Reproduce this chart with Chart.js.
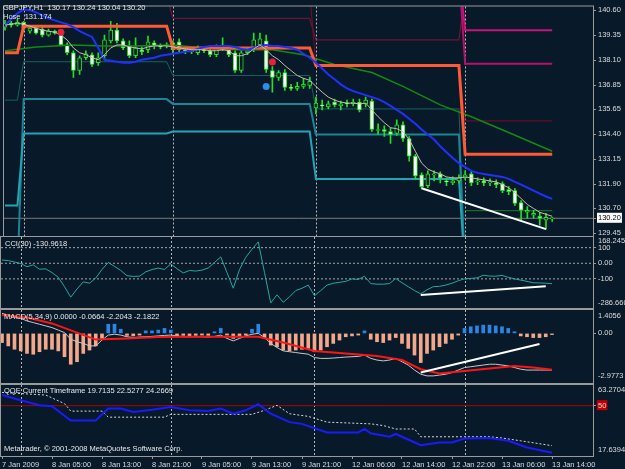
<!DOCTYPE html>
<html><head><meta charset="utf-8">
<script src="https://cdn.jsdelivr.net/npm/chart.js"></script>
<style>
html,body{margin:0;padding:0;background:#081a2a;width:625px;height:469px;overflow:hidden}
canvas{position:absolute;left:0;top:0}
</style></head><body>
<canvas id="cMain" width="625" height="469"></canvas>
<canvas id="cCci" width="625" height="469"></canvas>
<canvas id="cMacd" width="625" height="469"></canvas>
<canvas id="cQqe" width="625" height="469"></canvas>
<script>
// ---------- DATA ----------
const timeLabels = ['7 Jan 2009','8 Jan 05:00','8 Jan 13:00','8 Jan 21:00','9 Jan 05:00','9 Jan 13:00','9 Jan 21:00','12 Jan 06:00','12 Jan 14:00','12 Jan 22:00','13 Jan 06:00','13 Jan 14:00'];
const timeTickIdx = [0,8,16,24,32,40,48,56,64,72,80,88];
const daySeparators = [3,27,50,74];

const open = [139.76,139.95,139.86,140.00,139.56,139.71,139.66,139.36,139.56,139.36,
138.87,138.48,137.59,138.23,138.38,137.98,138.33,139.07,139.61,139.07,
138.82,138.33,138.63,138.63,138.97,138.82,138.82,138.97,139.02,138.63,
138.53,138.48,138.63,138.58,138.38,138.67,138.72,138.48,137.59,138.48,
138.63,138.87,139.07,137.59,137.25,137.49,136.75,136.70,136.80,136.85,
135.72,135.87,135.77,136.01,135.82,135.96,135.92,136.01,135.92,136.06,
134.59,134.64,134.54,134.44,134.88,134.19,133.31,132.37,131.83,132.37,
132.42,132.07,131.97,132.07,132.22,132.42,132.02,132.07,131.97,131.97,
131.93,131.63,131.58,130.99,130.50,130.35,130.30,130.10,130.17];
const high = [140.10,140.05,140.15,140.05,139.81,139.81,139.76,139.66,139.61,139.41,
138.97,138.58,138.33,138.58,138.48,138.48,139.36,140.05,139.95,139.17,
139.07,139.22,138.77,139.31,139.07,138.92,138.97,139.07,139.17,138.72,
138.67,138.82,138.72,138.72,138.87,139.22,138.82,138.58,138.58,138.72,
139.46,139.46,139.36,137.79,137.59,137.64,136.90,137.00,137.20,137.25,
136.26,136.11,136.06,136.16,136.06,136.11,136.16,136.16,136.26,136.16,
134.93,134.83,134.73,135.13,135.03,134.29,133.40,132.47,132.57,132.57,
132.52,132.22,132.27,132.37,132.57,132.57,132.22,132.22,132.17,132.12,
132.02,131.78,131.68,131.09,130.79,130.60,130.50,130.45,130.24];
const low = [139.61,139.76,139.81,139.61,139.46,139.41,139.27,139.31,139.41,138.82,
138.38,137.25,137.40,138.13,137.79,137.84,138.18,138.97,138.97,138.63,
138.23,138.23,138.38,138.48,138.67,138.67,138.72,138.48,138.48,138.43,
138.43,138.38,138.48,138.28,138.28,138.58,138.28,137.49,137.49,138.38,
138.53,138.77,137.49,136.51,137.10,136.60,136.60,136.60,136.70,136.70,
135.42,135.62,135.67,135.77,135.62,135.77,135.82,135.52,135.77,134.54,
134.39,134.29,133.94,134.34,134.04,133.06,132.17,131.68,131.73,132.07,
131.97,131.83,131.88,131.97,132.12,131.83,131.88,131.83,131.83,131.73,
131.48,131.38,130.84,130.10,130.20,130.20,129.86,129.66,130.04];
const close = [139.95,139.86,140.00,139.71,139.71,139.46,139.36,139.56,139.46,138.87,
138.48,137.59,138.23,138.43,137.89,138.23,139.12,139.61,139.07,138.72,
138.33,138.72,138.53,139.02,138.82,138.77,138.87,138.63,138.63,138.53,
138.58,138.67,138.58,138.38,138.72,138.77,138.38,137.59,138.48,138.58,
139.12,139.17,137.64,137.25,137.49,136.75,136.70,136.80,136.90,137.05,
135.96,135.82,135.92,135.87,135.92,135.92,136.01,135.62,136.11,134.64,
134.64,134.54,134.39,134.88,134.19,133.31,132.32,131.78,132.42,132.42,
132.22,132.02,132.07,132.22,132.37,131.97,132.07,131.97,132.02,131.88,
131.58,131.53,130.94,130.60,130.60,130.45,130.20,130.25,130.20];

const fastMA = [139.86,139.91,139.95,139.91,139.81,139.71,139.61,139.56,139.51,139.36,
139.12,138.72,138.48,138.38,138.23,138.13,138.38,138.72,138.87,138.87,
138.77,138.72,138.67,138.77,138.82,138.82,138.82,138.77,138.72,138.67,
138.63,138.63,138.63,138.58,138.58,138.63,138.58,138.33,138.33,138.43,
138.67,138.87,138.63,138.33,138.13,137.84,137.59,137.34,137.20,137.10,
136.80,136.51,136.26,136.11,136.01,135.96,135.96,135.92,135.96,135.62,
135.28,134.98,134.73,134.68,134.54,134.14,133.55,132.96,132.66,132.52,
132.42,132.27,132.22,132.22,132.27,132.22,132.17,132.12,132.07,132.02,
131.88,131.73,131.48,131.19,130.89,130.69,130.50,130.40,130.30];
const blueMA = [139.86,140.15,140.45,140.64,140.60,140.50,140.35,140.20,140.10,140.00,
139.91,139.76,139.56,139.41,139.27,138.72,138.13,138.08,138.03,137.98,
137.98,138.03,138.13,138.18,138.23,138.33,138.38,138.43,138.48,138.53,
138.58,138.67,138.77,138.82,138.82,138.82,138.82,138.77,138.67,138.63,
138.72,138.82,138.87,138.82,138.82,138.77,138.72,138.63,138.43,138.23,
137.98,137.69,137.39,137.15,136.90,136.70,136.56,136.46,136.36,136.26,
136.16,136.01,135.82,135.62,135.42,135.18,134.93,134.64,134.39,134.14,
133.80,133.50,133.21,132.96,132.76,132.57,132.47,132.42,132.37,132.32,
132.27,132.17,132.02,131.88,131.73,131.58,131.43,131.29,131.17];
const greenIdx = [0,5,11,16,21,27,32,37,43,48,53,59,64,70,75,81,88];
const greenVal = [138.58,138.77,138.87,138.82,138.82,138.87,138.72,138.63,138.63,138.38,137.89,137.49,136.80,135.87,135.28,134.49,133.55];

// daily level lines (index breakpoints / values)
const orangeIdx = [0,2,3,26,27,49,50,73,74,88];
const orangeVal = [138.48,138.48,139.81,139.81,138.72,138.72,137.84,137.84,133.40,133.40];
const maroonIdx = [26,27,49,50,73,74];
const maroonVal = [141.30,140.20,140.20,139.12,139.12,141.50];
const darkRedIdx = [49,50,73,74,88];
const darkRedVal = [141.50,137.84,137.84,135.07,135.07];
const magentaIdx = [73,74,88];
const magentaHiVal = [142.50,139.61,139.61];
const magentaLoVal = [142.50,137.93,137.93];
const tealAIdx = [2,3,26,27,49,50,73,74];
const tealAVal = [127.50,136.16,136.16,135.92,135.92,134.39,134.39,127.50];
const tealBIdx = [0,2,3,26,27,49,50,73,74];
const tealBVal = [130.84,130.84,134.44,134.44,134.54,134.54,132.17,132.17,127.50];
const tealDimIdx = [0,2,3,26,27,49,50,73,74];
const tealDimVal = [136.11,136.11,138.03,138.03,137.34,137.34,135.67,135.67,127.50];
const greenLvlIdx = [74,88];
const greenLvlVal = [130.58,130.58];
const upDotIdx = [9,43];
const upDotVal = [139.51,138.02];
const downDotIdx = [42];
const downDotVal = [136.79];
const trendIdx = [67,87];
const trendVal = [131.70,129.66];
const bidPrice = 130.20;
const mainTicks = [140.60,139.35,138.10,136.85,135.65,134.40,133.15,131.90,130.70,129.45];

const cci = [21,17,8,-2,-22,-10,-38,-36,-60,-90,
-150,-217,-165,-119,-128,-95,-40,5,-20,-46,
-80,-84,-83,-55,-40,-31,-40,-4,-35,-62,
-46,-50,-44,-30,5,41,-60,-160,-40,38,
90,137,-60,-254,-202,-250,-215,-175,-160,-140,
-208,-175,-140,-128,-122,-116,-100,-104,-83,-130,
-134,-134,-130,-98,-125,-150,-175,-196,-170,-150,
-148,-140,-128,-112,-100,-97,-94,-77,-82,-83,
-78,-90,-100,-108,-116,-125,-126,-128,-131];
const cciLevels = [100,0,-100];
const cciTrendIdx = [67,87];
const cciTrendVal = [-203,-147];
const cciMax = 168.2453, cciMin = -286.66;
const cciTickVals = [100,0,-100];
const cciTickText = ['100','0.00','-100'];
const cciEdgeText = ['168.2453','-286.660'];

const macdHist = [-0.55,-0.75,-0.95,-1.05,-1.2,-1.25,-1.1,-0.95,-0.95,-1.05,
-1.4,-1.85,-1.7,-1.2,-1.0,-0.75,-0.3,0.55,0.55,0.25,
-0.12,-0.15,-0.1,0.15,0.15,0.2,0.3,0.2,-0.15,-0.12,
-0.15,-0.12,-0.1,-0.12,0.1,0.3,-0.1,-0.3,-0.2,-0.1,
0.25,0.55,-0.3,-0.7,-0.8,-1.0,-1.05,-1.0,-0.95,-0.9,
-1.1,-1.0,-0.8,-0.6,-0.4,-0.2,-0.15,-0.1,0.15,-0.35,
-0.5,-0.55,-0.4,-0.25,-0.6,-0.9,-1.3,-1.75,-1.2,-1.0,
-0.8,-0.6,-0.35,-0.1,0.3,0.4,0.45,0.5,0.5,0.45,
0.4,0.3,0.1,-0.15,-0.2,-0.25,-0.25,-0.2,-0.07];
const macdMain = [1.2,1.1,1.0,0.9,0.75,0.65,0.55,0.45,0.35,0.2,
0.05,-0.35,-0.5,-0.6,-0.75,-0.75,-0.4,-0.1,-0.05,-0.1,
-0.2,-0.25,-0.22,-0.2,-0.18,-0.15,-0.12,-0.1,-0.15,-0.2,
-0.2,-0.2,-0.2,-0.22,-0.18,-0.1,-0.3,-0.45,-0.3,-0.15,
-0.05,0.0,-0.25,-0.6,-0.85,-1.05,-1.1,-1.15,-1.2,-1.25,
-1.45,-1.5,-1.5,-1.48,-1.45,-1.42,-1.4,-1.38,-1.3,-1.5,
-1.6,-1.65,-1.6,-1.5,-1.7,-1.9,-2.2,-2.45,-2.55,-2.55,
-2.5,-2.45,-2.35,-2.2,-2.05,-2.0,-1.95,-1.9,-1.85,-1.85,
-1.9,-1.95,-2.05,-2.15,-2.2,-2.2,-2.2,-2.2,-2.2043];
const signalIdx = [0,4,8,12,15,20,25,30,35,41,45,50,57,60,64,67,70,74,78,82,85,88];
const signalVal = [1.1,0.95,0.6,0.05,-0.37,-0.3,-0.22,-0.2,-0.2,-0.2,-0.55,-1.05,-1.26,-1.35,-1.6,-2.15,-2.4,-2.25,-2.1,-1.95,-2.05,-2.1822];
const macdTrendIdx = [67,86];
const macdTrendVal = [-2.35,-0.63];
const macdMax = 1.4056, macdMin = -2.9773;
const macdTickVals = [0];
const macdTickText = ['0.00'];
const macdEdgeText = ['1.4056','-2.9773'];

const qqeIdx = [0,3,6,8,11,15,17,19,21,24,27,30,33,35,37,39,41,43,46,48,52,57,58,59,62,63,67,70,72,74,78,81,84,88];
const qqeVal = [56.8,53.5,50.2,49.6,40.5,40.5,48.1,48.1,45.9,47.4,49.1,47.0,46.5,48.1,44.8,47.0,50.9,44.8,39.4,38.3,32.8,32.8,35.0,32.2,30.0,31.8,24.6,26.3,26.3,28.9,29.2,27.4,23.1,19.71];
const qqeSlowIdx = [0,7,10,11,16,17,26,27,40,42,44,46,49,52,59,61,63,66,67,78,80,83,88];
const qqeSlowVal = [58.5,56.8,51.3,46.5,46.5,42.6,42.6,44.4,44.4,47.0,50.2,44.8,43.1,39.4,38.3,37.2,35.0,35.0,30.0,30.0,29.2,27.4,24.27];
const qqeLevel = 50;
const qqeMax = 63.2704, qqeMin = 17.6394;
const qqeTickVals = [50];
const qqeTickText = ['50'];
const qqeEdgeText = ['63.2704','17.6394'];

// ---------- RENDER ----------
const BG = '#081a2a';
const FONT = {family: "'Liberation Sans', Arial, sans-serif", size: 7.5};
const TXT = '#dcdcdc';
const GRID = '#9a9a9a';
const X_MIN = -0.16, X_MAX = 94.56;

const pts = (xs, ys) => xs.map((x, i) => ({x, y: ys[i]}));
const seq = arr => arr.map((y, i) => ({x: i, y}));
const hline = v => [{x: X_MIN, y: v}, {x: X_MAX, y: v}];

const framePlugin = {
  id: 'frame',
  beforeDatasetsDraw(chart) {
    const {ctx, chartArea: a, scales: {x}} = chart;
    ctx.save();
    ctx.strokeStyle = '#b8b8b8'; ctx.lineWidth = 1; ctx.setLineDash([2, 2]);
    daySeparators.forEach(i => {
      const px = Math.round(x.getPixelForValue(i)) + 0.5;
      ctx.beginPath(); ctx.moveTo(px, a.top); ctx.lineTo(px, a.bottom); ctx.stroke();
    });
    ctx.restore();
  },
  afterDraw(chart, args, opts) {
    const {ctx, chartArea: a, scales: {y}} = chart;
    ctx.save();
    ctx.strokeStyle = GRID; ctx.lineWidth = 1;
    ctx.strokeRect(a.left - 0.5, a.top - 0.5, a.right - a.left + 1, a.bottom - a.top + 1);
    ctx.font = `${FONT.size}px ${FONT.family}`;
    ctx.textBaseline = 'middle'; ctx.textAlign = 'left';
    ctx.fillStyle = '#e8e8e8';
    (opts.texts || []).forEach(t => ctx.fillText(t.text, t.x, t.y));
    // range-end labels of sub-windows sit just inside the panel edge (MT4 style)
    ctx.fillStyle = TXT;
    (opts.edges || []).forEach(e => ctx.fillText(e.text, a.right + 5, y.getPixelForValue(e.value) + e.offset));
    ctx.restore();
  }
};

function xAxis(show) {
  const ax = {type: 'linear', min: X_MIN, max: X_MAX, display: show, offset: false};
  if (show) {
    Object.assign(ax, {
      afterBuildTicks: s => { s.ticks = timeTickIdx.map(v => ({value: v})); },
      afterFit: s => { s.height = 13; },
      ticks: {autoSkip: false, maxRotation: 0, minRotation: 0, align: 'start', padding: 1,
        color: TXT, font: FONT, callback: (v, i) => timeLabels[i]},
      grid: {drawOnChartArea: false, drawTicks: true, tickLength: 3, color: GRID},
      border: {display: false}
    });
  }
  return ax;
}

function yAxis(min, max, vals, textFor, special) {
  return {
    type: 'linear', position: 'right', min, max,
    afterFit: s => { s.width = 32; },
    afterBuildTicks: s => { s.ticks = vals.slice().sort((a, b) => a - b).map(v => ({value: v})); },
    ticks: {
      autoSkip: false, padding: 2, font: FONT,
      callback: v => textFor(v),
      color: ctx => (special && special.match(ctx.tick.value)) ? special.color : TXT,
      showLabelBackdrop: ctx => !!(special && special.match(ctx.tick.value)),
      backdropColor: special ? special.bg : 'transparent',
      backdropPadding: {left: 1, right: 1, top: 1, bottom: 0}
    },
    grid: {drawOnChartArea: false, drawTicks: true, tickLength: 3, color: GRID},
    border: {display: true, color: GRID}
  };
}

function makeChart(id, padTop, padBottom, datasets, y, showX, texts, edges) {
  return new Chart(document.getElementById(id), {
    type: 'line',
    data: {datasets},
    options: {
      responsive: false, animation: false, devicePixelRatio: 1, events: [],
      layout: {padding: {top: padTop, bottom: padBottom, left: 1, right: 0}},
      plugins: {legend: {display: false}, tooltip: {enabled: false}, frame: {texts, edges: edges || []}},
      scales: {x: xAxis(showX), y},
      elements: {point: {radius: 0}, line: {tension: 0}}
    },
    plugins: [framePlugin]
  });
}

const line = (data, color, width, order, extra) => Object.assign({type: 'line', data, borderColor: color, borderWidth: width, pointRadius: 0, order, spanGaps: false}, extra || {});

// ---- main price chart ----
const wickData = open.map((o, i) => ({x: i, y: [low[i], high[i]]}));
const bodyData = open.map((o, i) => ({x: i, y: [Math.min(o, close[i]), Math.max(o, close[i])]}));
const bodyFill = open.map((o, i) => close[i] < o ? '#ffffff' : BG);
const allMain = [...mainTicks, bidPrice];

makeChart('cMain', 3, 233, [
  line(hline(bidPrice), '#7a7a7a', 1, 100),
  line(pts(tealDimIdx, tealDimVal), '#17605e', 1, 95),
  line(pts(tealAIdx, tealAVal), '#1b8596', 2, 94),
  line(pts(tealBIdx, tealBVal), '#22a4b4', 2, 93),
  line(pts(greenLvlIdx, greenLvlVal), '#1f7a2a', 1, 92),
  line(pts(maroonIdx, maroonVal), '#8a1038', 1, 91),
  line(pts(darkRedIdx, darkRedVal), '#7a0c24', 1, 90),
  line(pts(magentaIdx, magentaHiVal), '#c8147a', 2, 89),
  line(pts(magentaIdx, magentaLoVal), '#b8106e', 2, 88),
  {type: 'bar', data: wickData, backgroundColor: '#22e022', borderWidth: 0, grouped: false, barThickness: 1, maxBarThickness: 1, order: 80},
  {type: 'bar', data: bodyData, backgroundColor: bodyFill, borderColor: '#22e022', borderWidth: 1, borderSkipped: false, grouped: false, barThickness: 4, maxBarThickness: 4, minBarLength: 1, order: 79},
  line(pts(greenIdx, greenVal), '#128a12', 1.5, 60),
  line(pts(orangeIdx, orangeVal), '#ff5a36', 3, 55),
  line(seq(blueMA), '#2030ff', 2, 50),
  line(seq(fastMA), '#cdbba8', 1, 45),
  line(pts(trendIdx, trendVal), '#ffffff', 2, 40),
  {type: 'line', data: pts(upDotIdx, upDotVal), showLine: false, pointRadius: 3.5, pointBackgroundColor: '#e8203c', pointBorderWidth: 0, order: 30},
  {type: 'line', data: pts(downDotIdx, downDotVal), showLine: false, pointRadius: 3.5, pointBackgroundColor: '#2a8cf0', pointBorderWidth: 0, order: 30}
], yAxis(129.314, 140.792, allMain, v => v.toFixed(2),
  {match: v => v === bidPrice, color: '#000000', bg: '#ffffff'}), false,
  [{text: 'GBPJPY,H1  130.17 130.24 130.04 130.20', x: 3, y: 8}, {text: 'Hose  131.174', x: 3, y: 17}]);

// ---- CCI ----
makeChart('cCci', 237, 161, [
  ...cciLevels.map(v => line(hline(v), '#a8a8a8', 1, 90, {borderDash: [2, 2]})),
  line(seq(cci), '#22a8a0', 1, 50),
  line(pts(cciTrendIdx, cciTrendVal), '#ffffff', 2, 40)
], yAxis(cciMin, cciMax, cciTickVals, v => cciTickText[cciTickVals.indexOf(v)]), false,
  [{text: 'CCI(30) -130.9618', x: 5, y: 244}],
  [{value: cciMax, text: cciEdgeText[0], offset: 4}, {value: cciMin, text: cciEdgeText[1], offset: -5}]);

// ---- MACD ----
makeChart('cMacd', 310, 86, [
  {type: 'bar', data: seq(macdHist), backgroundColor: macdHist.map(v => v >= 0 ? '#2a86e6' : '#f4a88a'), borderWidth: 0, grouped: false, barThickness: 3, maxBarThickness: 3, order: 90},
  line(seq(macdMain), '#c8c8c8', 1, 60),
  line(pts(signalIdx, signalVal), '#ff1414', 2, 50),
  line(pts(macdTrendIdx, macdTrendVal), '#ffffff', 2, 40)
], yAxis(macdMin, macdMax, macdTickVals, v => macdTickText[macdTickVals.indexOf(v)]), false,
  [{text: 'MACD(5,34,9) 0.0000 -0.0664 -2.2043 -2.1822', x: 4, y: 317}],
  [{value: macdMax, text: macdEdgeText[0], offset: 6}, {value: macdMin, text: macdEdgeText[1], offset: -7}]);

// ---- QQE ----
makeChart('cQqe', 385, 0, [
  line(hline(qqeLevel), '#b00000', 1, 90),
  line(pts(qqeSlowIdx, qqeSlowVal), '#d8d8d8', 1, 60, {borderDash: [2, 2]}),
  line(pts(qqeIdx, qqeVal), '#1a1aff', 2, 50)
], yAxis(qqeMin, qqeMax, qqeTickVals, v => qqeTickText[qqeTickVals.indexOf(v)],
    {match: v => v === qqeLevel, color: '#ffd0d0', bg: '#c00000'}), true,
  [{text: 'QQE Current Timeframe 19.7135 22.5277 24.2669', x: 4, y: 391},
   {text: 'Metatrader, \u00a9 2001-2008 MetaQuotes Software Corp.', x: 4, y: 449}],
  [{value: qqeMax, text: qqeEdgeText[0], offset: 5}, {value: qqeMin, text: qqeEdgeText[1], offset: -6}]);
</script></body></html>
